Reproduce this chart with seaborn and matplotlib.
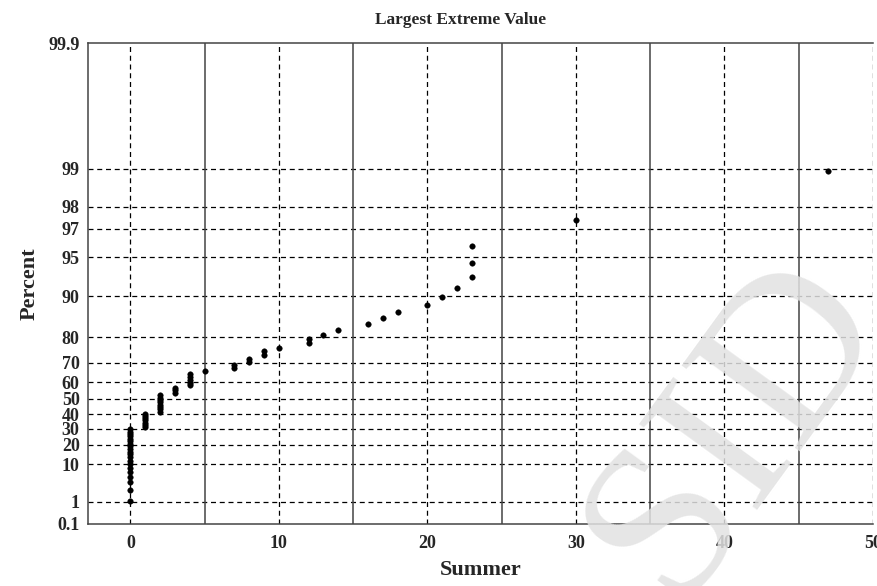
import numpy as np
import pandas as pd
import seaborn as sns
import matplotlib
matplotlib.use('Agg')
import matplotlib.pyplot as plt

# sorted sample values (Summer)
summer_vals = [0, 1, 2, 3, 4, 5, 7, 8, 9, 10, 12, 13, 14, 16, 17, 18, 20, 21, 22, 23, 30, 47]
summer_counts = [20, 7, 8, 3, 5, 1, 2, 2, 2, 1, 2, 1, 1, 1, 1, 1, 1, 1, 1, 3, 1, 1]

pct_ticks = [0.1, 1, 10, 20, 30, 40, 50, 60, 70, 80, 90, 95, 97, 98, 99, 99.9]
pct_labels = ['0.1', '1', '10', '20', '30', '40', '50', '60', '70', '80', '90', '95', '97', '98', '99', '99.9']
x_ticks = [0, 10, 20, 30, 40, 50]


def gumbel(p):
    # largest extreme value probability scale
    return -np.log(-np.log(p))


x = np.repeat(summer_vals, summer_counts)
n = len(x)
rank = np.arange(1, n + 1)
p = (rank - 0.3) / (n + 0.4)  # median ranks
df = pd.DataFrame({'Summer': x, 'q': gumbel(p)})

sns.set_style('white')
plt.rcParams['font.family'] = ['Liberation Serif', 'DejaVu Serif']

fig = plt.figure(figsize=(8.77, 5.86), dpi=100)
ax = fig.add_axes([88 / 877, 1 - 524 / 586, (873 - 88) / 877, (524 - 43) / 586])

yt = gumbel(np.array(pct_ticks) / 100)
for v in yt[1:-1]:
    ax.axhline(v, color='black', lw=0.9, ls=(0, (4, 3)), zorder=1)
for v in x_ticks:
    ax.axvline(v, color='black', lw=0.9, ls=(0, (4, 3)), zorder=1)
for v in [5, 15, 25, 35, 45]:
    ax.axvline(v, color='#444444', lw=1.1, zorder=1)

sns.scatterplot(data=df, x='Summer', y='q', ax=ax, color='black', s=16,
                edgecolor='black', linewidth=0.3, zorder=3, legend=False)

ax.set_xlim(-2.85, 49.9)
ax.set_ylim(yt[0], yt[-1])
ax.set_yticks(yt)
ax.set_yticklabels(pct_labels)
ax.set_xticks(x_ticks)
ax.tick_params(axis='both', direction='out', length=4, width=1, color='#333333', pad=2)
ax.tick_params(axis='y', labelsize=13)
ax.tick_params(axis='x', labelsize=13, pad=4)
for t in ax.get_xticklabels() + ax.get_yticklabels():
    t.set_fontweight('bold')

for side in ['left', 'bottom', 'top']:
    ax.spines[side].set_color('#444444')
    ax.spines[side].set_linewidth(1.1)
ax.spines['right'].set_visible(False)

ax.set_title('Largest Extreme Value', fontsize=12.5, fontweight='bold', pad=14, x=0.475)
ax.set_xlabel('Summer', fontsize=16, fontweight='bold', labelpad=6)
ax.set_ylabel('Percent', fontsize=16, fontweight='bold', labelpad=6)

# faint watermark
fig.text(0.84, 0.27, 'SID', fontsize=160, color='#e2e2e2', alpha=0.85,
         rotation=54, ha='center', va='center', zorder=10)

fig.savefig('out.png', dpi=100)
